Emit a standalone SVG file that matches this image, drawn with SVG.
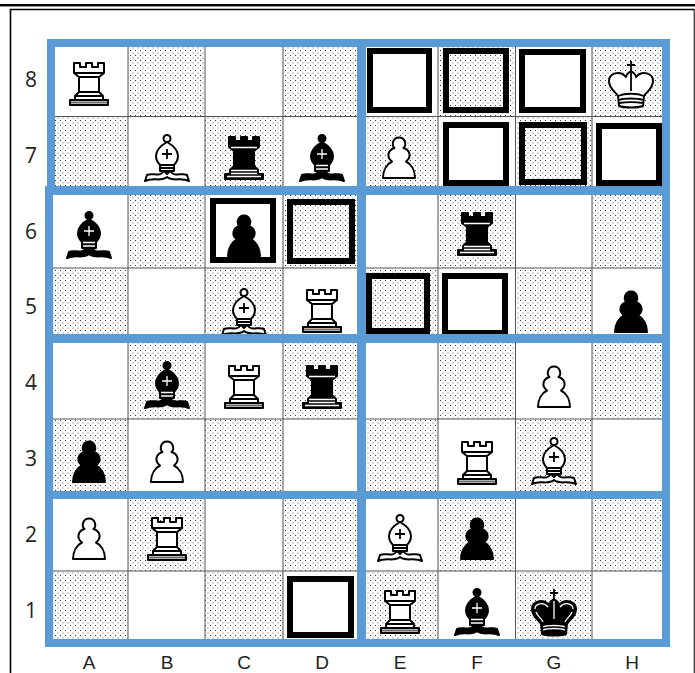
<svg xmlns="http://www.w3.org/2000/svg" width="695" height="673" viewBox="0 0 695 673">
<style>
.lbl{font-family:"Open Sans","Liberation Sans",sans-serif;font-size:21px;fill:#222;text-anchor:middle}
.col{font-family:"Liberation Sans",sans-serif;font-size:19px;fill:#222;text-anchor:middle}
.grid{stroke:#555;stroke-width:1;fill:none}
.box{fill:none;stroke:#000;stroke-width:6}
.blue{fill:#5b9bd5}
.w{fill:#fff;stroke:#000;stroke-width:2;stroke-linejoin:round}
.wl{fill:none;stroke:#000;stroke-width:1.8}
.b{fill:#000;stroke:#000;stroke-width:2;stroke-linejoin:round}
.bl{fill:none;stroke:#fff;stroke-width:1.3}
</style>
<defs>
<pattern id="dots" width="5" height="5" patternUnits="userSpaceOnUse">
<rect width="5" height="5" fill="#fff"/>
<rect x="0" y="0" width="1" height="1" fill="#333"/>
<rect x="2.500" y="2.500" width="1" height="1" fill="#666"/>
</pattern>
<path id="rookShape" d="M-15 0h6v4h6v-4h6v4h6v-4h6v10L10 14V29L14 33V37H19V42H-19V37H-14V33L-10 29V14L-15 10Z"/>
<path id="pawnShape" d="M-16 41C-16 33-12 27-7 24.500C-13 20-11 13-4.500 11C-8 8-6 .5 0 .5C6 .5 8 8 4.500 11C11 13 13 20 7 24.500C12 27 16 33 16 41Z"/>
<path id="bishopHead" d="M0 7C-7 11-11 16-11 21C-11 25-9 28-7 30V36H7V30C9 28 11 25 11 21C11 16 7 11 0 7Z"/>
<path id="ribbon" d="M-22 46L-20 40C-14 37-8 43-3 36L0 39L3 36C8 43 14 37 20 40L22 46C14 42 6 47 0 42C-6 47-14 42-22 46Z"/>
<path id="kingShape" d="M-12 45L-13 35C-15 31-22 28-22 20C-22 12-11 9-5 16C-5 14-3 12 0 10C3 12 5 14 5 16C11 9 22 12 22 20C22 28 15 31 13 35L12 45C6 47-6 47-12 45Z"/>
<g id="wr"><use href="#rookShape" class="w"/><path class="wl" d="M-15 10H15M-10 14H10M-10 29H10M-14 33H14M-14 37H14"/><path d="M-18 39.500H18" stroke="#666" stroke-width="2"/></g>
<g id="br"><use href="#rookShape" class="b"/><path class="bl" d="M-13 10.500H13M-13 33.500H13M-13 36.500H13M-17 39.500H17"/></g>
<g id="wp"><use href="#pawnShape" class="w"/></g>
<g id="bp"><use href="#pawnShape" class="b"/></g>
<g id="wb"><circle cy="3.500" r="3.500" class="w"/><use href="#bishopHead" class="w"/><path class="wl" d="M0 14V24M-5 19H5M-7 30H7M-7 33H7"/><use href="#ribbon" class="w"/></g>
<g id="bb"><circle cy="3.500" r="3.500" class="b"/><use href="#bishopHead" class="b"/><path class="bl" d="M0 14V24M-5 19H5M-6 30.500H6M-6 34H6"/><use href="#ribbon" class="b"/></g>
<g id="wk"><path class="wl" d="M0 0V11M-4 4H4"/><use href="#kingShape" class="w"/><path class="wl" d="M0 10V30M-13 35C-6 32 6 32 13 35M-12 39C-6 37 6 37 12 39M-12 42C-6 41 6 41 12 42"/></g>
<g id="bk"><path class="wl" d="M0 0V11M-4 4H4"/><use href="#kingShape" class="b"/><path class="bl" d="M0 12V30M-11 38C-6 36 6 36 11 38M-11 41C-6 39 6 39 11 41M-19 20C-19 15-11 12-6 18M19 20C19 15 11 12 6 18M-18 23C-16 28-12 30-11 33M18 23C16 28 12 30 11 33"/></g>
</defs>
<rect width="695" height="673" fill="#fff"/>
<g id="frame">
<rect x="0" y="4" width="695" height="2.400" fill="#000"/>
<path d="M10.500 673V9.500H694" fill="none" stroke="#000" stroke-width="1.600"/>
<path d="M694.200 9V673" stroke="#000" stroke-width="1"/>
</g>
<g id="squares" fill="url(#dots)">
<rect x="128" y="45" width="77" height="72"/><rect x="283" y="45" width="77" height="72"/><rect x="438" y="45" width="78" height="72"/><rect x="592" y="45" width="73" height="72"/>
<rect x="50" y="117" width="78" height="72"/><rect x="205" y="117" width="78" height="72"/><rect x="360" y="117" width="78" height="72"/><rect x="516" y="117" width="76" height="72"/>
<rect x="128" y="193" width="77" height="75"/><rect x="283" y="193" width="77" height="75"/><rect x="438" y="193" width="78" height="75"/><rect x="592" y="193" width="73" height="75"/>
<rect x="50" y="268" width="78" height="70"/><rect x="205" y="268" width="78" height="70"/><rect x="360" y="268" width="78" height="70"/><rect x="516" y="268" width="76" height="70"/>
<rect x="128" y="340" width="77" height="79"/><rect x="283" y="340" width="77" height="79"/><rect x="438" y="340" width="78" height="79"/><rect x="592" y="340" width="73" height="79"/>
<rect x="50" y="419" width="78" height="76"/><rect x="205" y="419" width="78" height="76"/><rect x="360" y="419" width="78" height="76"/><rect x="516" y="419" width="76" height="76"/>
<rect x="128" y="495" width="77" height="76"/><rect x="283" y="495" width="77" height="76"/><rect x="438" y="495" width="78" height="76"/><rect x="592" y="495" width="73" height="76"/>
<rect x="50" y="571" width="78" height="70"/><rect x="205" y="571" width="78" height="70"/><rect x="360" y="571" width="78" height="70"/><rect x="516" y="571" width="76" height="70"/>
</g>
<g id="grid" class="grid">
<path d="M128 45V641M205 45V641M283 45V641M438 45V641M515.500 45V641M592 45V641"/>
<path d="M50 116.500H665M50 268H665M50 419H665M50 571H665"/>
</g>
<g id="highlights" class="box">
<rect x="370" y="51" width="59" height="59"/><rect x="446" y="51" width="60" height="59"/><rect x="522" y="52" width="61" height="58"/>
<rect x="446" y="125" width="60" height="58"/><rect x="522" y="125" width="62" height="57"/><rect x="599" y="126" width="60" height="57"/>
<rect x="213" y="201" width="60" height="59"/><rect x="290" y="202" width="62" height="59"/>
<rect x="369" y="276" width="58" height="55"/><rect x="445" y="276" width="60" height="57"/>
<rect x="290" y="579" width="61" height="56"/>
</g>
<g id="pieces">
<use href="#wr" x="89" y="63"/><use href="#wk" x="631" y="61"/>
<use href="#wb" x="167" y="135"/><use href="#br" x="244" y="137"/><use href="#bb" x="322" y="135"/><use href="#wp" x="399" y="137"/>
<use href="#bb" x="89" y="212"/><use href="#bp" x="244" y="215"/><use href="#br" x="477" y="213"/>
<use href="#wb" x="244" y="289"/><use href="#wr" x="322" y="290"/><use href="#bp" x="631" y="291"/>
<use href="#bb" x="167" y="362"/><use href="#wr" x="244" y="366"/><use href="#br" x="322" y="366"/><use href="#wp" x="554" y="366"/>
<use href="#bp" x="89" y="441"/><use href="#wp" x="167" y="441"/><use href="#wr" x="477" y="442"/><use href="#wb" x="554" y="438"/>
<use href="#wp" x="89" y="518"/><use href="#wr" x="167" y="518"/><use href="#wb" x="400" y="515"/><use href="#bp" x="477" y="518"/>
<use href="#wr" x="400" y="591"/><use href="#bb" x="477" y="589"/><use href="#bk" x="554" y="589"/>
</g>
<g id="blue-lines" class="blue">
<rect x="47" y="39" width="623" height="8"/>
<rect x="47" y="39" width="8" height="150"/>
<rect x="45" y="186" width="8" height="461"/>
<rect x="45" y="186" width="625" height="9"/>
<rect x="47" y="334" width="623" height="9"/>
<rect x="45" y="491" width="625" height="8"/>
<rect x="45" y="639" width="625" height="8"/>
<rect x="357" y="39" width="9" height="608"/>
<rect x="662" y="39" width="8" height="608"/>
</g>
<g id="labels">
<text class="lbl" x="31" y="87">8</text><text class="lbl" x="31" y="163">7</text><text class="lbl" x="31" y="239">6</text><text class="lbl" x="31" y="314">5</text><text class="lbl" x="31" y="390">4</text><text class="lbl" x="31" y="466">3</text><text class="lbl" x="31" y="542">2</text><text class="lbl" x="31" y="618">1</text>
<text class="col" x="89" y="668.500">A</text><text class="col" x="167" y="668.500">B</text><text class="col" x="244" y="668.500">C</text><text class="col" x="322" y="668.500">D</text><text class="col" x="400" y="668.500">E</text><text class="col" x="477" y="668.500">F</text><text class="col" x="554" y="668.500">G</text><text class="col" x="632" y="668.500">H</text>
</g>
</svg>
